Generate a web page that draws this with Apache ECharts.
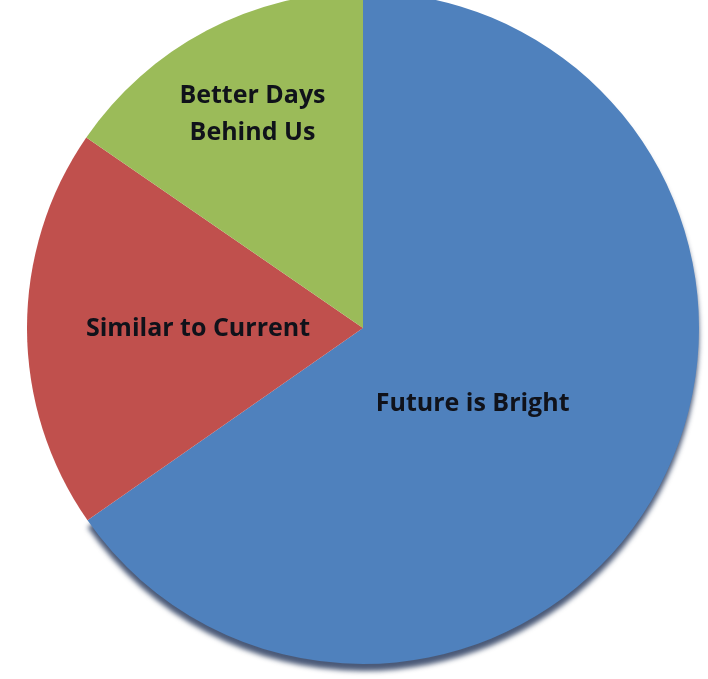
<!DOCTYPE html>
<html>
<head>
<meta charset="utf-8">
<script src="https://cdn.jsdelivr.net/npm/echarts@6/dist/echarts.min.js"></script>
<style>
  html, body { margin: 0; padding: 0; background: #fff; }
  #chart { width: 708px; height: 679px; }
</style>
</head>
<body>
<div id="chart"></div>
<script>
const categories = ['Future is Bright', 'Similar to Current', 'Better Days\nBehind Us']
const values = [65.3, 19.3, 15.4]
const colors = ['#4F81BD', '#C0504D', '#9BBB59']

// nudges for the inside labels, to sit where the original put them
const labelShift = [[-42, -3], [6, 0], [-31, -62]]

const myChart = echarts.init(document.getElementById('chart'))

myChart.setOption({
  animation: false,
  series: [
    {
      type: 'pie',
      center: [363, 328],
      radius: 336,
      startAngle: 90,
      clockwise: true,
      label: {
        show: true,
        position: 'inside',
        fontFamily: 'Open Sans',
        fontWeight: 'bold',
        fontSize: 25,
        lineHeight: 37,
        color: '#10121a'
      },
      labelLine: { show: false },
      labelLayout: (params) => {
        const s = labelShift[params.dataIndex]
        return { dx: s[0], dy: s[1] }
      },
      itemStyle: { borderWidth: 0 },
      emphasis: { disabled: true },
      data: categories.map((name, i) => ({
        name: name,
        value: values[i],
        itemStyle: i === 0 ? {
          color: colors[i],
          // only the big slice casts the drop shadow along the bottom rim
          shadowColor: 'rgba(15, 35, 75, 0.75)',
          shadowBlur: 5,
          shadowOffsetY: 7
        } : { color: colors[i] }
      }))
    }
  ]
})
</script>
</body>
</html>
